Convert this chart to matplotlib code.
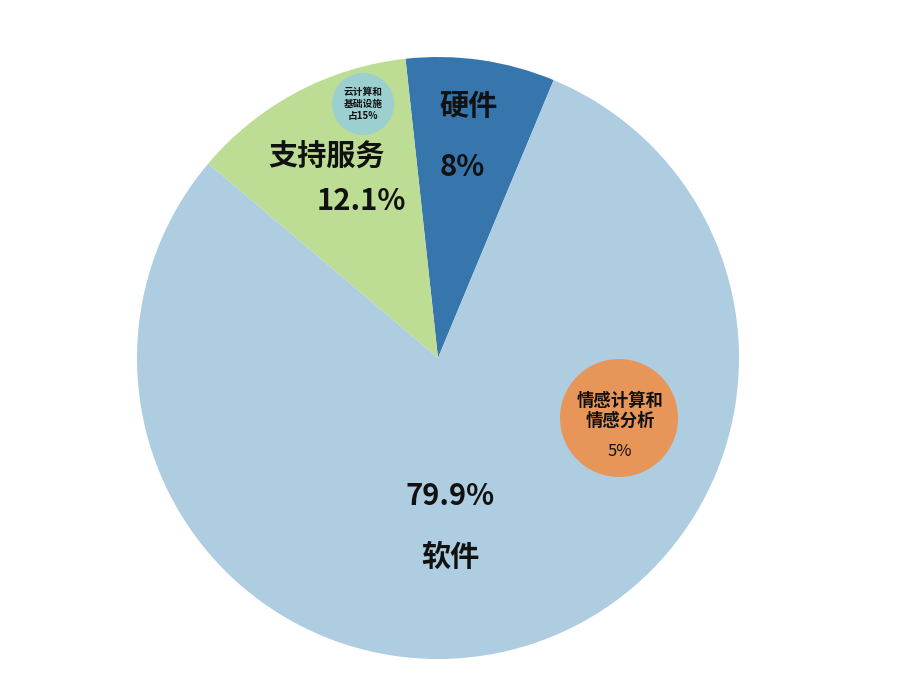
import matplotlib
matplotlib.use("Agg")
import matplotlib.pyplot as plt
from matplotlib.patches import Circle

plt.rcParams['font.family'] = ['Noto Sans CJK SC', 'DejaVu Sans']

labels = ['硬件', '支持服务', '软件']
values = [8, 12.1, 79.9]
colors = ['#3776ad', '#bcdd93', '#aecde1']

fig = plt.figure(figsize=(9, 6.86), dpi=100)
ax = fig.add_axes([0, 0, 1, 1])

# pie in pixel-like coordinates (y up)
ax.pie(values, colors=colors, startangle=67.4, counterclock=True,
       center=(438, 328), radius=301, frame=True,
       wedgeprops=dict(linewidth=0))
ax.set_xlim(0, 900)
ax.set_ylim(0, 686)
ax.axis('off')

def Y(py):
    return 686 - py

big = dict(fontsize=21, fontweight='bold', ha='center', va='center', color='#111111')
ax.text(468, Y(106), labels[0], **big)
ax.text(462, Y(167), f'{values[0]:g}%', **big)
ax.text(327, Y(156), labels[1], **big)
ax.text(361, Y(201), f'{values[1]:g}%', **big)
ax.text(450, Y(496), f'{values[2]:g}%', **big)
ax.text(450, Y(557), labels[2], **big)

# callout bubbles
ax.add_patch(Circle((619, Y(418)), 59, color='#e8955a', lw=0))
ax.text(620, Y(411), '情感计算和\n情感分析', fontsize=12.5, fontweight='bold',
        ha='center', va='center', linespacing=1.15, color='#111111')
ax.text(620, Y(452), '5%', fontsize=12, ha='center', va='center', color='#111111')

ax.add_patch(Circle((363, Y(104)), 31, color='#9ccfcf', lw=0))
ax.text(363, Y(104), '云计算和\n基础设施\n占15%', fontsize=7, fontweight='bold',
        ha='center', va='center', linespacing=1.2, color='#111111')

fig.savefig('out.png', dpi=100, facecolor='white')
